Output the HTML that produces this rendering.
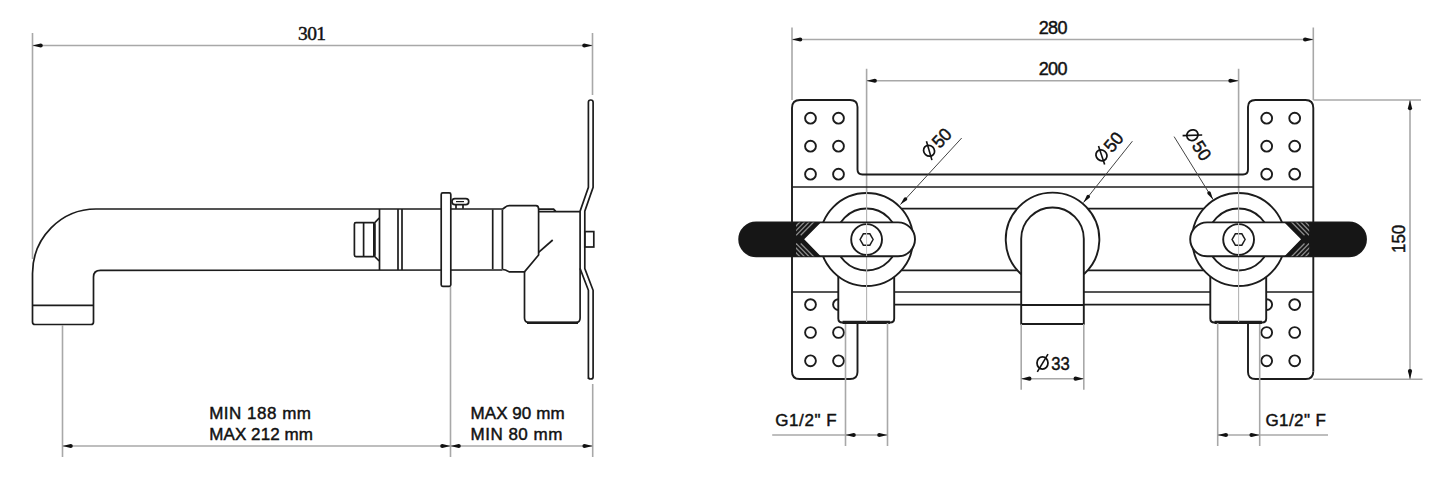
<!DOCTYPE html>
<html><head><meta charset="utf-8"><style>
html,body{margin:0;padding:0;background:#fff;}
svg{display:block;}
text{font-family:"Liberation Sans",sans-serif;fill:#111;stroke:#111;stroke-width:0.45px;}
</style></head><body>
<svg width="1445" height="481" viewBox="0 0 1445 481">
<rect width="1445" height="481" fill="#fff"/>
<line x1="32.5" y1="33" x2="32.5" y2="259" stroke="#a8a8a8" stroke-width="1.6" fill="none"/>
<line x1="592.5" y1="33" x2="592.5" y2="95" stroke="#a8a8a8" stroke-width="1.6" fill="none"/>
<line x1="32.5" y1="45.5" x2="592.5" y2="45.5" stroke="#a8a8a8" stroke-width="1.6" fill="none"/>
<path d="M32.50 45.50 L40.70 43.40 A2.10 2.10 0 0 1 40.70 47.60 Z" fill="#111"/>
<path d="M592.50 45.50 L584.30 47.60 A2.10 2.10 0 0 1 584.30 43.40 Z" fill="#111"/>
<text x="298" y="40" font-size="19.5" textLength="28" lengthAdjust="spacing" font-family="Liberation Serif" style="font-family:Liberation Serif">301</text>
<path d="M96 209 L502.4 209 M96 209 A63.5 64.5 0 0 0 32.5 273.5 L32.5 322 Q32.5 324.5 35 324.5 L91 324.5 Q93.5 324.5 93.5 322 L93.5 277 Q93.5 270.4 100.5 270.4 L502.4 270 M32.5 305.3 L93.5 305.3" stroke="#1c1c1c" stroke-width="1.7" fill="none"/>
<rect x="354.4" y="222.7" width="20.4" height="33.9" rx="1.5" stroke="#1c1c1c" stroke-width="1.7" fill="none"/>
<line x1="363.6" y1="222.7" x2="363.6" y2="256.6" stroke="#1c1c1c" stroke-width="1.7" fill="none"/>
<path d="M374.8 222.7 L379.2 218 M374.8 256.6 L379.2 261" stroke="#1c1c1c" stroke-width="1.7" fill="none"/>
<line x1="374.2" y1="223" x2="374.2" y2="256" stroke="#1c1c1c" stroke-width="2.4"/>
<line x1="379.5" y1="209" x2="379.5" y2="270" stroke="#1c1c1c" stroke-width="1.7" fill="none"/>
<line x1="398" y1="209" x2="398" y2="270" stroke="#1c1c1c" stroke-width="1.7" fill="none"/>
<line x1="402" y1="209" x2="402" y2="270" stroke="#1c1c1c" stroke-width="1.7" fill="none"/>
<rect x="441.2" y="192.9" width="9.6" height="93.4" rx="1.5" fill="#fff" stroke="#1c1c1c" stroke-width="1.7" />
<rect x="452" y="198.7" width="16.7" height="5.9" rx="2.9" stroke="#1c1c1c" stroke-width="1.7" fill="none"/>
<path d="M456 204.6 L456 208.7 M463 204.6 L463 208.7" stroke="#1c1c1c" stroke-width="1.7" fill="none"/>
<line x1="456" y1="201.6" x2="464" y2="201.6" stroke="#1c1c1c" stroke-width="1.2"/>
<line x1="492.7" y1="209.5" x2="492.7" y2="269.2" stroke="#1c1c1c" stroke-width="1.7" fill="none"/>
<line x1="502.4" y1="209.5" x2="502.4" y2="269.2" stroke="#1c1c1c" stroke-width="1.7" fill="none"/>
<path d="M502.4 209.2 L505.5 207 Q506.8 205.6 509.4 205.6 L536 205.6 Q538.6 205.6 538.6 209 L538.6 255 L524.5 271.9 L509.4 271.9 L505.5 270 L502.4 269.5" stroke="#1c1c1c" stroke-width="1.7" fill="none"/>
<path d="M538.6 209.1 L553.6 209.1 L556 211.7 L580.1 211.7 M538.6 211.7 L556 211.7" stroke="#1c1c1c" stroke-width="1.7" fill="none"/>
<line x1="538.6" y1="252.4" x2="552.7" y2="240" stroke="#1c1c1c" stroke-width="1.7" fill="none"/>
<path d="M524.5 271.9 L524.5 318 Q524.5 322.5 529 322.5 L576 322.5 Q580.1 322.5 580.1 318" stroke="#1c1c1c" stroke-width="1.7" fill="none"/>
<line x1="527" y1="322.8" x2="578" y2="322.8" stroke="#1c1c1c" stroke-width="2.4"/>
<line x1="580.1" y1="268.6" x2="580.1" y2="318" stroke="#1c1c1c" stroke-width="1.7" fill="none"/>
<path d="M588.4 379 L588.4 290.3 L580.1 268.6 L580.1 211.2 L588.4 187.3 L588.4 102.3 Q588.4 100 590.75 100 Q593.1 100 593.1 102.3 L593.1 187.3 L584.8 211.2 L584.8 268.6 L593.1 290.3 L593.1 377 Q593.1 379 590.75 379 Q588.4 379 588.4 377" stroke="#1c1c1c" stroke-width="1.7" fill="none"/>
<rect x="584.8" y="231.6" width="9" height="15.4" stroke="#1c1c1c" stroke-width="1.7" fill="none"/>
<line x1="62.5" y1="325" x2="62.5" y2="457" stroke="#a8a8a8" stroke-width="1.6" fill="none"/>
<line x1="450.5" y1="287" x2="450.5" y2="457" stroke="#a8a8a8" stroke-width="1.6" fill="none"/>
<line x1="592.7" y1="384" x2="592.7" y2="457" stroke="#a8a8a8" stroke-width="1.6" fill="none"/>
<line x1="62.5" y1="446" x2="592.7" y2="446" stroke="#a8a8a8" stroke-width="1.6" fill="none"/>
<path d="M62.50 446.00 L70.70 443.90 A2.10 2.10 0 0 1 70.70 448.10 Z" fill="#111"/>
<path d="M450.50 446.00 L442.30 448.10 A2.10 2.10 0 0 1 442.30 443.90 Z" fill="#111"/>
<path d="M450.50 446.00 L458.70 443.90 A2.10 2.10 0 0 1 458.70 448.10 Z" fill="#111"/>
<path d="M592.70 446.00 L584.50 448.10 A2.10 2.10 0 0 1 584.50 443.90 Z" fill="#111"/>
<text x="209.2" y="418.8" font-size="17" textLength="101.8" lengthAdjust="spacing" >MIN 188 mm</text>
<text x="209.2" y="440.2" font-size="17" textLength="103.8" lengthAdjust="spacing" >MAX 212 mm</text>
<text x="470.5" y="418.7" font-size="17" textLength="94.1" lengthAdjust="spacing" >MAX 90 mm</text>
<text x="470.5" y="439.8" font-size="17" textLength="91.9" lengthAdjust="spacing" >MIN 80 mm</text>
<line x1="792" y1="27.5" x2="792" y2="100" stroke="#a8a8a8" stroke-width="1.6" fill="none"/>
<line x1="1313.3" y1="27.5" x2="1313.3" y2="100" stroke="#a8a8a8" stroke-width="1.6" fill="none"/>
<line x1="792" y1="39.5" x2="1313.3" y2="39.5" stroke="#a8a8a8" stroke-width="1.6" fill="none"/>
<path d="M792.00 39.50 L800.20 37.40 A2.10 2.10 0 0 1 800.20 41.60 Z" fill="#111"/>
<path d="M1313.30 39.50 L1305.10 41.60 A2.10 2.10 0 0 1 1305.10 37.40 Z" fill="#111"/>
<text x="1038.75" y="34.25" font-size="18" textLength="28.75" lengthAdjust="spacing" >280</text>
<line x1="866.6" y1="68.75" x2="866.6" y2="322.5" stroke="#a8a8a8" stroke-width="1.6" fill="none"/>
<line x1="1238.6" y1="68.75" x2="1238.6" y2="322.5" stroke="#a8a8a8" stroke-width="1.6" fill="none"/>
<line x1="866.6" y1="80.75" x2="1238.6" y2="80.75" stroke="#a8a8a8" stroke-width="1.6" fill="none"/>
<path d="M866.60 80.75 L874.80 78.65 A2.10 2.10 0 0 1 874.80 82.85 Z" fill="#111"/>
<path d="M1238.60 80.75 L1230.40 82.85 A2.10 2.10 0 0 1 1230.40 78.65 Z" fill="#111"/>
<text x="1038.75" y="75" font-size="18" textLength="28.75" lengthAdjust="spacing" >200</text>
<line x1="1313.3" y1="100" x2="1421" y2="100" stroke="#a8a8a8" stroke-width="1.6" fill="none"/>
<line x1="1313.3" y1="379.2" x2="1422.5" y2="379.2" stroke="#a8a8a8" stroke-width="1.6" fill="none"/>
<line x1="1410" y1="100" x2="1410" y2="379.2" stroke="#a8a8a8" stroke-width="1.6" fill="none"/>
<path d="M1410.00 100.00 L1412.10 108.20 A2.10 2.10 0 0 1 1407.90 108.20 Z" fill="#111"/>
<path d="M1410.00 379.20 L1407.90 371.00 A2.10 2.10 0 0 1 1412.10 371.00 Z" fill="#111"/>
<text x="0" y="0" font-size="18" textLength="28.3" lengthAdjust="spacingAndGlyphs" transform="translate(1405.3 253) rotate(-90)">150</text>
<path d="M792 372 L792 108 Q792 100 800 100 L850 100 Q857.5 100 857.5 107 L857.5 169.5 Q857.5 174.5 862.5 174.5 L1243 174.5 Q1248 174.5 1248 169.5 L1248 107 Q1248 100 1255.5 100 L1305.5 100 Q1313.3 100 1313.3 108 L1313.3 371.5" stroke="#1c1c1c" stroke-width="1.9" fill="none"/>
<path d="M792 371.5 Q792 379 799.5 379 L850 379 Q857.5 379 857.5 372 L857.5 322.5" stroke="#1c1c1c" stroke-width="1.9" fill="none"/>
<path d="M1313.3 371.5 Q1313.3 379 1305.8 379 L1255.5 379 Q1248 379 1248 372 L1248 322.5" stroke="#1c1c1c" stroke-width="1.9" fill="none"/>
<circle cx="810.5" cy="118.2" r="5.4" stroke="#1c1c1c" stroke-width="1.9" fill="none"/>
<circle cx="1294.70" cy="118.2" r="5.4" stroke="#1c1c1c" stroke-width="1.9" fill="none"/>
<circle cx="810.5" cy="146.2" r="5.4" stroke="#1c1c1c" stroke-width="1.9" fill="none"/>
<circle cx="1294.70" cy="146.2" r="5.4" stroke="#1c1c1c" stroke-width="1.9" fill="none"/>
<circle cx="810.5" cy="174.2" r="5.4" stroke="#1c1c1c" stroke-width="1.9" fill="none"/>
<circle cx="1294.70" cy="174.2" r="5.4" stroke="#1c1c1c" stroke-width="1.9" fill="none"/>
<circle cx="810.5" cy="304.6" r="5.4" stroke="#1c1c1c" stroke-width="1.9" fill="none"/>
<circle cx="1294.70" cy="304.6" r="5.4" stroke="#1c1c1c" stroke-width="1.9" fill="none"/>
<circle cx="810.5" cy="332.5" r="5.4" stroke="#1c1c1c" stroke-width="1.9" fill="none"/>
<circle cx="1294.70" cy="332.5" r="5.4" stroke="#1c1c1c" stroke-width="1.9" fill="none"/>
<circle cx="810.5" cy="360.8" r="5.4" stroke="#1c1c1c" stroke-width="1.9" fill="none"/>
<circle cx="1294.70" cy="360.8" r="5.4" stroke="#1c1c1c" stroke-width="1.9" fill="none"/>
<circle cx="838.5" cy="118.2" r="5.4" stroke="#1c1c1c" stroke-width="1.9" fill="none"/>
<circle cx="1266.70" cy="118.2" r="5.4" stroke="#1c1c1c" stroke-width="1.9" fill="none"/>
<circle cx="838.5" cy="146.2" r="5.4" stroke="#1c1c1c" stroke-width="1.9" fill="none"/>
<circle cx="1266.70" cy="146.2" r="5.4" stroke="#1c1c1c" stroke-width="1.9" fill="none"/>
<circle cx="838.5" cy="174.2" r="5.4" stroke="#1c1c1c" stroke-width="1.9" fill="none"/>
<circle cx="1266.70" cy="174.2" r="5.4" stroke="#1c1c1c" stroke-width="1.9" fill="none"/>
<circle cx="838.5" cy="304.6" r="5.4" stroke="#1c1c1c" stroke-width="1.9" fill="none"/>
<circle cx="1266.70" cy="304.6" r="5.4" stroke="#1c1c1c" stroke-width="1.9" fill="none"/>
<circle cx="838.5" cy="332.5" r="5.4" stroke="#1c1c1c" stroke-width="1.9" fill="none"/>
<circle cx="1266.70" cy="332.5" r="5.4" stroke="#1c1c1c" stroke-width="1.9" fill="none"/>
<circle cx="838.5" cy="360.8" r="5.4" stroke="#1c1c1c" stroke-width="1.9" fill="none"/>
<circle cx="1266.70" cy="360.8" r="5.4" stroke="#1c1c1c" stroke-width="1.9" fill="none"/>
<line x1="792" y1="187" x2="1313.3" y2="187" stroke="#1c1c1c" stroke-width="1.7" fill="none"/>
<line x1="901.4" y1="208.7" x2="1017.6" y2="208.7" stroke="#1c1c1c" stroke-width="1.7" fill="none"/>
<line x1="1087.6" y1="208.7" x2="1203.7999999999997" y2="208.7" stroke="#1c1c1c" stroke-width="1.7" fill="none"/>
<line x1="901.4" y1="270.3" x2="1017.6" y2="270.3" stroke="#1c1c1c" stroke-width="1.7" fill="none"/>
<line x1="1087.6" y1="270.3" x2="1203.7999999999997" y2="270.3" stroke="#1c1c1c" stroke-width="1.7" fill="none"/>
<line x1="792" y1="292" x2="838.3" y2="292" stroke="#1c1c1c" stroke-width="1.7" fill="none"/>
<line x1="894.2" y1="292" x2="1021.2" y2="292" stroke="#1c1c1c" stroke-width="1.7" fill="none"/>
<line x1="1083.9" y1="292" x2="1210.9999999999998" y2="292" stroke="#1c1c1c" stroke-width="1.7" fill="none"/>
<line x1="1266.8999999999999" y1="292" x2="1313.3" y2="292" stroke="#1c1c1c" stroke-width="1.7" fill="none"/>
<line x1="894.2" y1="304.7" x2="1210.9999999999998" y2="304.7" stroke="#1c1c1c" stroke-width="1.7" fill="none"/>
<path d="M1021.2 274.2 A46.8 46.8 0 1 1 1083.9 274.2" fill="#fff" stroke="#1c1c1c" stroke-width="1.9"/>
<path d="M1021.2 324 L1021.2 238.8 A31.3 31.3 0 0 1 1083.8 238.8 L1083.8 324 Z M1021.2 305 L1083.8 305" fill="#fff" stroke="#1c1c1c" stroke-width="1.9"/>
<line x1="1021.2" y1="324" x2="1021.2" y2="389.7" stroke="#a8a8a8" stroke-width="1.6" fill="none"/>
<line x1="1083.8" y1="324" x2="1083.8" y2="389.7" stroke="#a8a8a8" stroke-width="1.6" fill="none"/>
<line x1="1021.2" y1="378.7" x2="1083.8" y2="378.7" stroke="#a8a8a8" stroke-width="1.6" fill="none"/>
<path d="M1021.20 378.70 L1029.40 376.60 A2.10 2.10 0 0 1 1029.40 380.80 Z" fill="#111"/>
<path d="M1083.80 378.70 L1075.60 380.80 A2.10 2.10 0 0 1 1075.60 376.60 Z" fill="#111"/>
<g transform="translate(1036.6 370.2) rotate(0)"><ellipse cx="5.90" cy="-7.20" rx="5.50" ry="6.10" fill="none" stroke="#111" stroke-width="1.75"/><line x1="0.70" y1="1.70" x2="11.40" y2="-16.00" stroke="#111" stroke-width="1.6"/><text x="14.60" y="0" font-size="19" textLength="18.5" lengthAdjust="spacingAndGlyphs">33</text></g>
<path d="M838.30 270 L838.30 318.5 Q838.30 322.5 842.30 322.5 L890.20 322.5 Q894.20 322.5 894.20 318.5 L894.20 270 Z" fill="#fff" stroke="#1c1c1c" stroke-width="1.9"/>
<line x1="842.6" y1="322.4" x2="889.9" y2="322.4" stroke="#1c1c1c" stroke-width="3.4"/>
<circle cx="866.6" cy="239.5" r="46.5" fill="#fff" stroke="#1c1c1c" stroke-width="1.9"/>
<circle cx="866.6" cy="239.5" r="31" stroke="#1c1c1c" stroke-width="1.9" fill="none"/>
<line x1="866.6" y1="190" x2="866.6" y2="322" stroke="#b4b4b4" stroke-width="1.1"/>
<rect x="739.20" y="222.4" width="175.80" height="33.9" rx="16.95" fill="#fff" stroke="#1c1c1c" stroke-width="1.9"/>
<path d="M756.20 222.4 L820.8 222.4 L804.2 239.35 L820.8 256.3 L756.20 256.3 A16.95 16.95 0 0 1 756.20 222.4 Z" fill="#161616"/>
<clipPath id="c866"><path d="M796.00 222.4 L820.80 222.4 L804.20 239.35 L820.80 256.3 L796.00 256.3 Z"/></clipPath>
<g clip-path="url(#c866)" stroke="#8c8c8c" stroke-width="1.3"><line x1="814.70" y1="221" x2="800.70" y2="235.28"/><line x1="814.70" y1="257.7" x2="800.70" y2="243.42"/><line x1="810.10" y1="221" x2="796.10" y2="235.28"/><line x1="810.10" y1="257.7" x2="796.10" y2="243.42"/><line x1="805.50" y1="221" x2="791.50" y2="235.28"/><line x1="805.50" y1="257.7" x2="791.50" y2="243.42"/><line x1="800.90" y1="221" x2="786.90" y2="235.28"/><line x1="800.90" y1="257.7" x2="786.90" y2="243.42"/><line x1="796.30" y1="221" x2="782.30" y2="235.28"/><line x1="796.30" y1="257.7" x2="782.30" y2="243.42"/></g>
<circle cx="866.6" cy="239.5" r="15.4" fill="#fff" stroke="#1c1c1c" stroke-width="1.9"/>
<polygon points="873.10,239.50 869.85,245.13 863.35,245.13 860.10,239.50 863.35,233.87 869.85,233.87" stroke="#1c1c1c" stroke-width="1.5" fill="none"/>
<line x1="866.6" y1="223" x2="866.6" y2="256" stroke="#c4c4c4" stroke-width="1"/>
<path d="M1210.30 270 L1210.30 318.5 Q1210.30 322.5 1214.30 322.5 L1262.20 322.5 Q1266.20 322.5 1266.20 318.5 L1266.20 270 Z" fill="#fff" stroke="#1c1c1c" stroke-width="1.9"/>
<line x1="1214.6" y1="322.4" x2="1261.8999999999999" y2="322.4" stroke="#1c1c1c" stroke-width="3.4"/>
<circle cx="1238.6" cy="239.5" r="46.5" fill="#fff" stroke="#1c1c1c" stroke-width="1.9"/>
<circle cx="1238.6" cy="239.5" r="31" stroke="#1c1c1c" stroke-width="1.9" fill="none"/>
<line x1="1238.6" y1="190" x2="1238.6" y2="322" stroke="#b4b4b4" stroke-width="1.1"/>
<rect x="1190.20" y="222.4" width="175.80" height="33.9" rx="16.95" fill="#fff" stroke="#1c1c1c" stroke-width="1.9"/>
<path d="M1349.00 222.4 L1284.40 222.4 L1301.00 239.35 L1284.40 256.3 L1349.00 256.3 A16.95 16.95 0 0 0 1349.00 222.4 Z" fill="#161616"/>
<clipPath id="c1238"><path d="M1309.20 222.4 L1284.40 222.4 L1301.00 239.35 L1284.40 256.3 L1309.20 256.3 Z"/></clipPath>
<g clip-path="url(#c1238)" stroke="#8c8c8c" stroke-width="1.3"><line x1="1290.50" y1="221" x2="1304.50" y2="235.28"/><line x1="1290.50" y1="257.7" x2="1304.50" y2="243.42"/><line x1="1295.10" y1="221" x2="1309.10" y2="235.28"/><line x1="1295.10" y1="257.7" x2="1309.10" y2="243.42"/><line x1="1299.70" y1="221" x2="1313.70" y2="235.28"/><line x1="1299.70" y1="257.7" x2="1313.70" y2="243.42"/><line x1="1304.30" y1="221" x2="1318.30" y2="235.28"/><line x1="1304.30" y1="257.7" x2="1318.30" y2="243.42"/><line x1="1308.90" y1="221" x2="1322.90" y2="235.28"/><line x1="1308.90" y1="257.7" x2="1322.90" y2="243.42"/></g>
<circle cx="1238.6" cy="239.5" r="15.4" fill="#fff" stroke="#1c1c1c" stroke-width="1.9"/>
<polygon points="1245.10,239.50 1241.85,245.13 1235.35,245.13 1232.10,239.50 1235.35,233.87 1241.85,233.87" stroke="#1c1c1c" stroke-width="1.5" fill="none"/>
<line x1="1238.6" y1="223" x2="1238.6" y2="256" stroke="#c4c4c4" stroke-width="1"/>
<line x1="961.7" y1="138" x2="900.4" y2="204.6" stroke="#444" stroke-width="1"/>
<path d="M900.40 204.60 L904.15 197.86 A1.80 1.80 0 0 1 906.80 200.30 Z" fill="#111"/>
<line x1="1132.4" y1="141.2" x2="1083.5" y2="202.5" stroke="#444" stroke-width="1"/>
<path d="M1083.50 202.50 L1086.77 195.51 A1.80 1.80 0 0 1 1089.58 197.76 Z" fill="#111"/>
<line x1="1174.1" y1="136.6" x2="1213" y2="199.4" stroke="#444" stroke-width="1"/>
<path d="M1213.00 199.40 L1207.52 193.97 A1.80 1.80 0 0 1 1210.58 192.08 Z" fill="#111"/>
<g transform="translate(930.3 159.5) rotate(-47.4)"><ellipse cx="5.59" cy="-6.82" rx="5.21" ry="5.78" fill="none" stroke="#111" stroke-width="1.75"/><line x1="0.66" y1="1.61" x2="10.80" y2="-15.16" stroke="#111" stroke-width="1.6"/><text x="13.83" y="0" font-size="18" textLength="19.5" lengthAdjust="spacingAndGlyphs">50</text></g>
<g transform="translate(1103 164) rotate(-49.5)"><ellipse cx="5.59" cy="-6.82" rx="5.21" ry="5.78" fill="none" stroke="#111" stroke-width="1.75"/><line x1="0.66" y1="1.61" x2="10.80" y2="-15.16" stroke="#111" stroke-width="1.6"/><text x="13.83" y="0" font-size="18" textLength="19.5" lengthAdjust="spacingAndGlyphs">50</text></g>
<g transform="translate(1183.6 134.2) rotate(57)"><ellipse cx="5.59" cy="-6.82" rx="5.21" ry="5.78" fill="none" stroke="#111" stroke-width="1.75"/><line x1="0.66" y1="1.61" x2="10.80" y2="-15.16" stroke="#111" stroke-width="1.6"/><text x="13.83" y="0" font-size="18" textLength="19.5" lengthAdjust="spacingAndGlyphs">50</text></g>
<line x1="845.5" y1="324" x2="845.5" y2="446" stroke="#a8a8a8" stroke-width="1.6" fill="none"/>
<line x1="887.5" y1="323" x2="887.5" y2="446" stroke="#a8a8a8" stroke-width="1.6" fill="none"/>
<line x1="772.2" y1="435" x2="887.5" y2="435" stroke="#a8a8a8" stroke-width="1.6" fill="none"/>
<path d="M845.50 435.00 L853.70 432.90 A2.10 2.10 0 0 1 853.70 437.10 Z" fill="#111"/>
<path d="M887.50 435.00 L879.30 437.10 A2.10 2.10 0 0 1 879.30 432.90 Z" fill="#111"/>
<text x="775.3" y="426" font-size="17" textLength="61.4" lengthAdjust="spacing" >G1/2&quot; F</text>
<line x1="1217.7" y1="323" x2="1217.7" y2="446" stroke="#a8a8a8" stroke-width="1.6" fill="none"/>
<line x1="1259.7" y1="324" x2="1259.7" y2="446" stroke="#a8a8a8" stroke-width="1.6" fill="none"/>
<line x1="1217.7" y1="435" x2="1328" y2="435" stroke="#a8a8a8" stroke-width="1.6" fill="none"/>
<path d="M1217.70 435.00 L1225.90 432.90 A2.10 2.10 0 0 1 1225.90 437.10 Z" fill="#111"/>
<path d="M1259.70 435.00 L1251.50 437.10 A2.10 2.10 0 0 1 1251.50 432.90 Z" fill="#111"/>
<text x="1265.5" y="426" font-size="17" textLength="60.3" lengthAdjust="spacing" >G1/2&quot; F</text>
</svg>
</body></html>
